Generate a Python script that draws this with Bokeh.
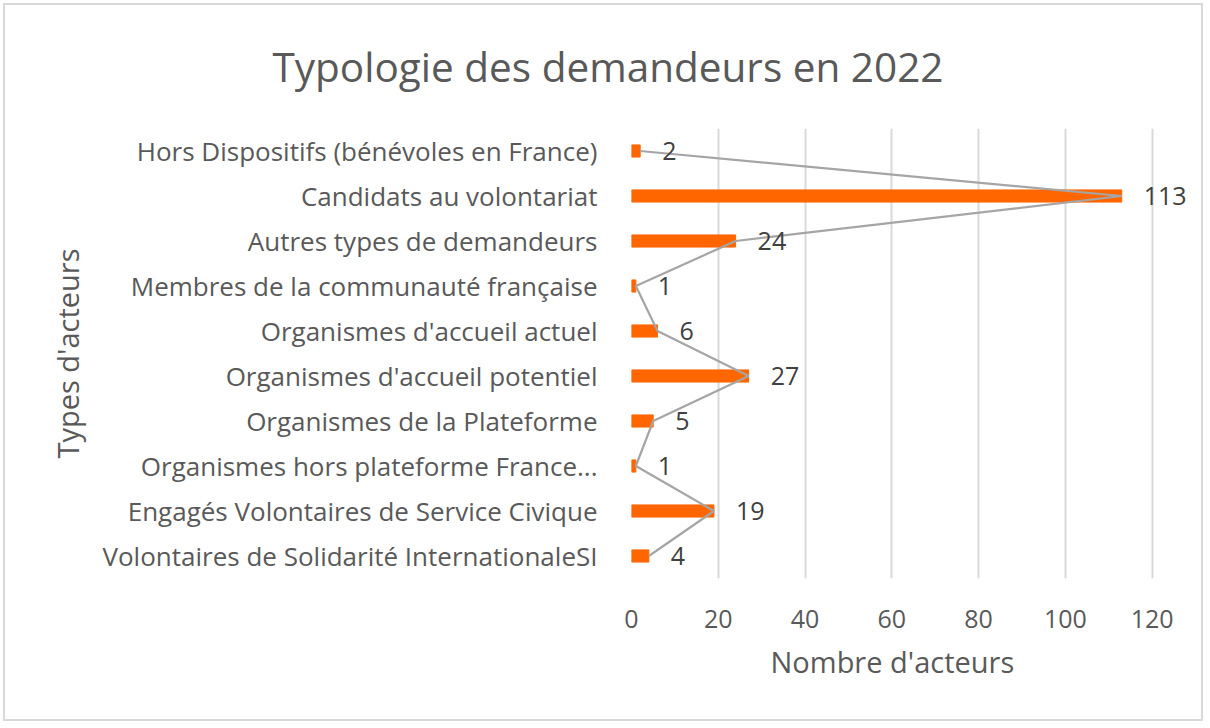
from bokeh.plotting import figure
from bokeh.models import FactorRange, Range1d, FixedTicker, Title, ColumnDataSource
from bokeh.embed import file_html
from bokeh.resources import INLINE

categories = [
    "Hors Dispositifs (bénévoles en France)",
    "Candidats au volontariat",
    "Autres types de demandeurs",
    "Membres de la communauté française",
    "Organismes d'accueil actuel",
    "Organismes d'accueil potentiel",
    "Organismes de la Plateforme",
    "Organismes hors plateforme France...",
    "Engagés Volontaires de Service Civique",
    "Volontaires de Solidarité InternationaleSI",
]
values = [2, 113, 24, 1, 6, 27, 5, 1, 19, 4]
x_ticks = [0, 20, 40, 60, 80, 100, 120]
title_text = "Typologie des demandeurs en 2022"
x_title = "Nombre d'acteurs"
y_title = "Types d'acteurs"

FONT = "Open Sans"
TXT = "#595959"
X_MAX = 130

src = ColumnDataSource(dict(cat=categories, val=values, lab=[str(v) for v in values]))

p = figure(
    width=1200, height=718,
    y_range=FactorRange(factors=list(reversed(categories))),
    x_range=Range1d(0, X_MAX),
    output_backend="svg", toolbar_location=None,
    min_border_left=626, min_border_right=10, min_border_top=123, min_border_bottom=145,
)
p.styles = {"border": "2px solid #d9d9d9", "margin": "3px"}
p.outline_line_color = None
p.background_fill_color = "white"
p.border_fill_color = "white"

p.hbar(y="cat", right="val", left=0, height=0.27, source=src, color="#ff6600")
p.line(x="val", y="cat", source=src, line_color="#a5a5a5", line_width=2.2)
p.text(x="val", y="cat", text="lab", source=src, x_offset=22, y_offset=0, text_align="left",
       text_baseline="middle", text_color="#404040", text_font_size="25px",
       text_font={"value": FONT})

p.xgrid.ticker = FixedTicker(ticks=x_ticks)
p.xgrid.grid_line_color = "#d9d9d9"
p.xgrid.grid_line_width = 2
p.ygrid.grid_line_color = None

p.xaxis.ticker = FixedTicker(ticks=x_ticks)
p.xaxis.axis_line_color = None
p.xaxis.major_tick_line_color = None
p.xaxis.minor_tick_line_color = None
p.xaxis.major_label_standoff = 25
p.xaxis.major_label_text_font = FONT
p.xaxis.major_label_text_font_size = "25px"
p.xaxis.major_label_text_color = TXT

p.yaxis.axis_line_color = None
p.yaxis.major_tick_line_color = None
p.yaxis.minor_tick_line_color = None
p.yaxis.major_label_standoff = 28
p.yaxis.major_label_text_font = FONT
p.yaxis.major_label_text_font_size = "26px"
p.yaxis.major_label_text_color = TXT
p.yaxis.axis_label = y_title
p.yaxis.axis_label_standoff = 12
p.yaxis.axis_label_text_font = FONT
p.yaxis.axis_label_text_font_size = "29px"
p.yaxis.axis_label_text_font_style = "normal"
p.yaxis.axis_label_text_color = TXT

p.add_layout(Title(text=title_text, align="left", offset=-359, standoff=66,
                   vertical_align="top",
                   text_font=FONT, text_font_size="40.5px", text_font_style="normal",
                   text_color=TXT), "above")
p.add_layout(Title(text=x_title, align="left", offset=139, standoff=18,
                   text_font=FONT, text_font_size="29px", text_font_style="normal",
                   text_color=TXT), "below")

open("out.html", "w").write(file_html(p, INLINE))
